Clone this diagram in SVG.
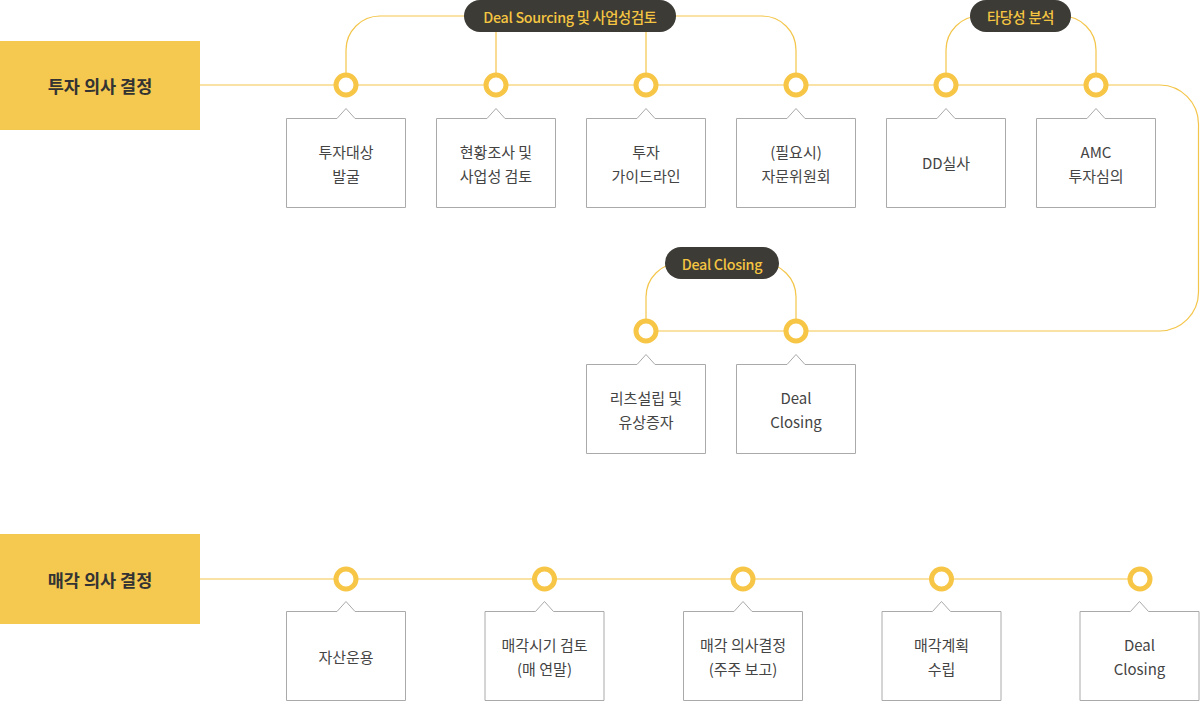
<svg xmlns="http://www.w3.org/2000/svg" width="1200" height="701" viewBox="0 0 1200 701">
<style>
.lbl{fill:#f5c850}
.lbltxt{font-family:"Noto Sans CJK KR","Noto Sans",sans-serif;font-size:17.5px;font-weight:700;fill:#333;text-anchor:middle;dominant-baseline:central}
.ln{fill:none;stroke:#f3c54a;stroke-width:1.2}
.dot{fill:#fff;stroke:#f7c646;stroke-width:5}
.box{fill:#fff;stroke:#aaa;stroke-width:1}
.bt{font-family:"Noto Sans CJK KR","Noto Sans",sans-serif;font-size:15px;fill:#444;text-anchor:middle;dominant-baseline:central}
.pill{fill:#3c3b35}
.pt{font-family:"Noto Sans CJK KR","Noto Sans",sans-serif;font-size:14.3px;font-weight:500;fill:#f5c542;text-anchor:middle;dominant-baseline:central;letter-spacing:-0.3px}
</style>
<defs>
<path id="bx" class="box" d="M-59.5,0 H-9 L0,-10 L9,0 H59.5 V89 H-59.5 Z"/>
</defs>

<g id="connectors">
<path class="ln" d="M200,85 H1160 A39,39 0 0 1 1198.5,124 V292 A39,39 0 0 1 1160,331 H646"/>
<path class="ln" d="M346,85 V50 A34,34 0 0 1 380,16 H762 A34,34 0 0 1 796,50 V85"/>
<path class="ln" d="M496,16 V85 M646,16 V85"/>
<path class="ln" d="M946,85 V50 A34,34 0 0 1 980,16 H1062 A34,34 0 0 1 1096,50 V85"/>
<path class="ln" d="M646,331 V297 A34,34 0 0 1 680,263 H762 A34,34 0 0 1 796,297 V331"/>
<path class="ln" d="M200,579 H1140"/>
</g>

<g id="label-invest">
<rect class="lbl" x="0" y="41" width="200" height="89"/>
<text class="lbltxt" x="100" y="85">투자 의사 결정</text>
</g>
<g id="label-sale">
<rect class="lbl" x="0" y="534" width="200" height="90"/>
<text class="lbltxt" x="100" y="579">매각 의사 결정</text>
</g>

<g id="pill-sourcing">
<rect class="pill" x="464" y="0" width="212" height="32" rx="16"/>
<text class="pt" x="570" y="16">Deal Sourcing 및 사업성검토</text>
</g>
<g id="pill-feasibility">
<rect class="pill" x="970" y="0" width="101" height="32" rx="16"/>
<text class="pt" x="1020.5" y="16">타당성 분석</text>
</g>
<g id="pill-closing">
<rect class="pill" x="665" y="247" width="114" height="32" rx="16"/>
<text class="pt" x="722" y="263">Deal Closing</text>
</g>

<g id="dots">
<circle class="dot" cx="346" cy="85" r="10"/>
<circle class="dot" cx="496" cy="85" r="10"/>
<circle class="dot" cx="646" cy="85" r="10"/>
<circle class="dot" cx="796" cy="85" r="10"/>
<circle class="dot" cx="946" cy="85" r="10"/>
<circle class="dot" cx="1096" cy="85" r="10"/>
<circle class="dot" cx="646" cy="331" r="10"/>
<circle class="dot" cx="796" cy="331" r="10"/>
<circle class="dot" cx="346" cy="579" r="10"/>
<circle class="dot" cx="544.5" cy="579" r="10"/>
<circle class="dot" cx="743" cy="579" r="10"/>
<circle class="dot" cx="941.5" cy="579" r="10"/>
<circle class="dot" cx="1140" cy="579" r="10"/>
</g>

<g id="n1" transform="translate(346,118.5)"><use href="#bx"/><text class="bt" y="33">투자대상</text><text class="bt" y="57">발굴</text></g>
<g id="n2" transform="translate(496,118.5)"><use href="#bx"/><text class="bt" y="33">현황조사 및</text><text class="bt" y="57">사업성 검토</text></g>
<g id="n3" transform="translate(646,118.5)"><use href="#bx"/><text class="bt" y="33">투자</text><text class="bt" y="57">가이드라인</text></g>
<g id="n4" transform="translate(796,118.5)"><use href="#bx"/><text class="bt" y="33">(필요시)</text><text class="bt" y="57">자문위원회</text></g>
<g id="n5" transform="translate(946,118.5)"><use href="#bx"/><text class="bt" y="44">DD실사</text></g>
<g id="n6" transform="translate(1096,118.5)"><use href="#bx"/><text class="bt" y="33">AMC</text><text class="bt" y="57">투자심의</text></g>

<g id="n7" transform="translate(646,364.5)"><use href="#bx"/><text class="bt" y="33">리츠설립 및</text><text class="bt" y="57">유상증자</text></g>
<g id="n8" transform="translate(796,364.5)"><use href="#bx"/><text class="bt" y="33">Deal</text><text class="bt" y="57">Closing</text></g>

<g id="s1" transform="translate(346,611.5)"><use href="#bx"/><text class="bt" y="45">자산운용</text></g>
<g id="s2" transform="translate(544.5,611.5)"><use href="#bx"/><text class="bt" y="33">매각시기 검토</text><text class="bt" y="57">(매 연말)</text></g>
<g id="s3" transform="translate(743,611.5)"><use href="#bx"/><text class="bt" y="33">매각 의사결정</text><text class="bt" y="57">(주주 보고)</text></g>
<g id="s4" transform="translate(941.5,611.5)"><use href="#bx"/><text class="bt" y="33">매각계획</text><text class="bt" y="57">수립</text></g>
<g id="s5" transform="translate(1139.5,611.5)"><use href="#bx"/><text class="bt" y="33">Deal</text><text class="bt" y="57">Closing</text></g>
</svg>
